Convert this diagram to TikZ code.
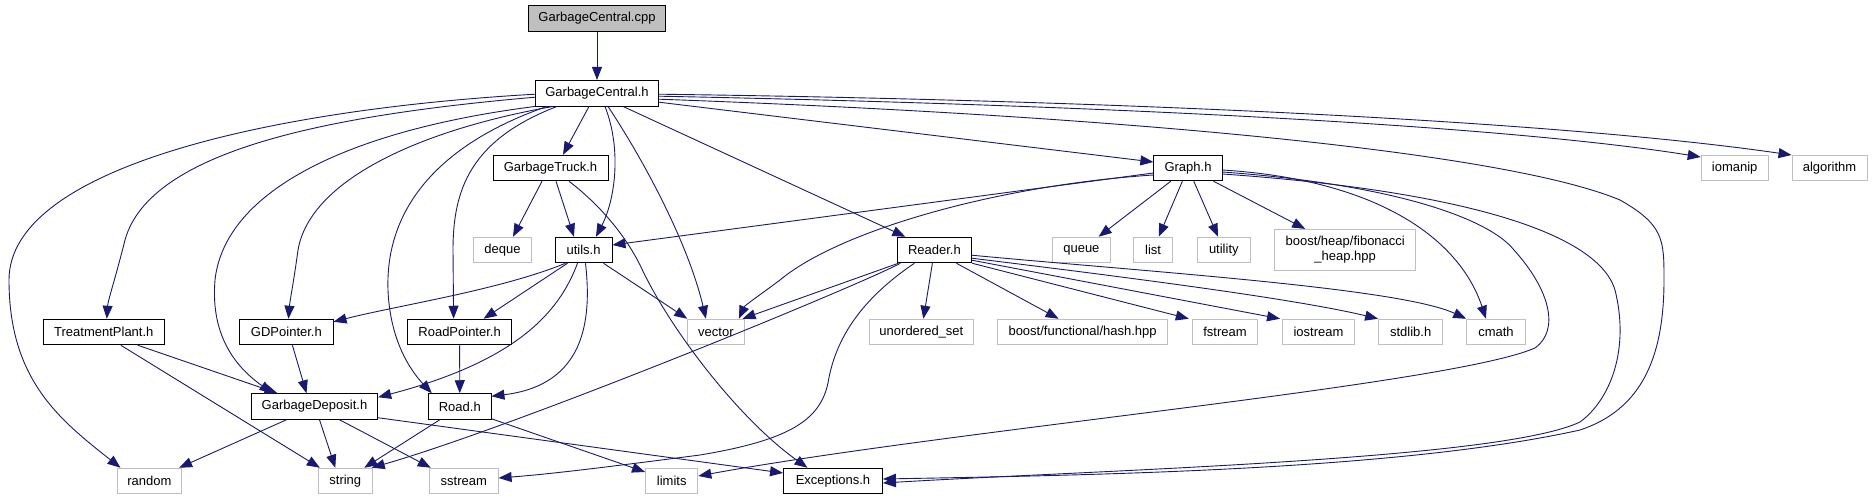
\documentclass[tikz,border=0pt]{standalone}
\usepackage{fontspec}
\setmainfont{Liberation Sans}
\usetikzlibrary{arrows.meta}
\definecolor{navyc}{HTML}{191970}
\definecolor{grayc}{HTML}{BFBFBF}
\begin{document}
\begin{tikzpicture}[x=1pt,y=-1pt,
  box/.style={draw=black, line width=0.9pt, fill=white, minimum height=25.6pt, inner sep=0pt, font=\fontsize{13}{15}\selectfont},
  sys/.style={box, draw=grayc},
  e/.style={draw=navyc, line width=0.9pt, -{Triangle[length=13pt,width=10pt]}}]
\useasboundingbox (0,0) rectangle (1872,500);
% nodes
\node[box, fill=grayc, minimum width=137pt] (cpp) at (597,18.5) {GarbageCentral.cpp};
\node[box, minimum width=123pt] (gch) at (597,93.2) {GarbageCentral.h};
\node[box, minimum width=115pt] (truck) at (550.5,168) {GarbageTruck.h};
\node[box, minimum width=68.4pt] (graph) at (1188,168) {Graph.h};
\node[sys, minimum width=67pt] (iomanip) at (1734.7,168) {iomanip};
\node[sys, minimum width=75pt] (algorithm) at (1829.5,168) {algorithm};
\node[sys, minimum width=57.6pt] (deque) at (502.5,250) {deque};
\node[box, minimum width=57pt] (utils) at (583.5,250) {utils.h};
\node[box, minimum width=74.6pt] (reader) at (934.4,250) {Reader.h};
\node[sys, minimum width=57.6pt] (queue) at (1081.4,250) {queue};
\node[sys, minimum width=38.6pt] (list) at (1153.1,250) {list};
\node[sys, minimum width=53pt] (utility) at (1223.8,250) {utility};
\node[sys, minimum width=141.3pt, minimum height=40.7pt, align=center] (fib) at (1345.2,249.7) {boost/heap/fibonacci\\\_heap.hpp};
\node[box, minimum width=121pt] (tplant) at (103.8,332) {TreatmentPlant.h};
\node[box, minimum width=93.3pt] (gdp) at (286.4,332) {GDPointer.h};
\node[box, minimum width=104pt] (roadp) at (459.6,332) {RoadPointer.h};
\node[sys, minimum width=56.4pt] (vector) at (715.9,332) {vector};
\node[sys, minimum width=104pt] (uset) at (921.4,332) {unordered\_set};
\node[sys, minimum width=170.4pt] (hash) at (1082.6,332) {boost/functional/hash.hpp};
\node[sys, minimum width=65.5pt] (fstream) at (1225,332) {fstream};
\node[sys, minimum width=72pt] (iostream) at (1318.5,332) {iostream};
\node[sys, minimum width=64.3pt] (stdlib) at (1410.7,332) {stdlib.h};
\node[sys, minimum width=58.7pt] (cmath) at (1496,332) {cmath};
\node[box, minimum width=126.4pt] (gdep) at (314.5,406.5) {GarbageDeposit.h};
\node[box, minimum width=62.4pt] (road) at (459.8,406.5) {Road.h};
\node[sys, minimum width=64.7pt] (random) at (149.3,481) {random};
\node[sys, minimum width=54pt] (string) at (345.3,481) {string};
\node[sys, minimum width=68.7pt] (sstream) at (463.8,481) {sstream};
\node[sys, minimum width=52.3pt] (limits) at (671.7,481) {limits};
\node[box, minimum width=99pt] (exc) at (833,481) {Exceptions.h};
% edges
\draw[e] (cpp) -- (gch);
% GarbageCentral.h
\draw[e] ([yshift=-1pt]gch.west) .. controls (260,110) and (9,170) .. (9,280) .. controls (9,380) and (60,420) .. ([xshift=4pt]random.north west);
\draw[e] ([yshift=-4pt]gch.west) .. controls (330,115) and (150,150) .. (125,240) .. controls (115,280) and (108,300) .. ([xshift=3pt]tplant.north);
\draw[e] (gch.south west) .. controls (350,130) and (225,190) .. (215,280) .. controls (210,340) and (240,370) .. ([xshift=-42pt]gdep.north);
\draw[e] ([xshift=-44pt]gch.south) .. controls (420,130) and (310,180) .. (298,250) .. controls (294,280) and (290,300) .. ([xshift=2pt]gdp.north);
\draw[e] ([xshift=-50pt]gch.south) .. controls (450,140) and (385,200) .. (388,290) .. controls (390,340) and (410,370) .. ([xshift=-28pt]road.north);
\draw[e] ([xshift=-40pt]gch.south) .. controls (470,140) and (453,190) .. (453,250) -- ([xshift=-6pt]roadp.north);
\draw[e] ([xshift=-8pt]gch.south) -- ([xshift=12.5pt]truck.north);
\draw[e] ([xshift=8pt]gch.south) .. controls (622,150) and (615,200) .. ([xshift=12.5pt]utils.north);
\draw[e] ([xshift=11pt]gch.south) .. controls (650,170) and (690,250) .. ([xshift=-10pt]vector.north);
\draw[e] ([xshift=26pt]gch.south) -- ([xshift=-29pt]reader.north);
\draw[e] ([yshift=-9pt]gch.east) -- ([yshift=6pt]graph.west);
\draw[e] ([yshift=-3pt]gch.east) .. controls (1100,105) and (1500,125) .. ([yshift=11pt]iomanip.west);
\draw[e] ([yshift=-1pt]gch.east) .. controls (1100,100) and (1550,120) .. ([yshift=13pt]algorithm.west);
\draw[e] ([yshift=-6pt]gch.east) .. controls (1100,115) and (1500,150) .. (1620,200) .. controls (1664,225) and (1664,240) .. (1664,280) .. controls (1664,360) and (1640,410) .. (1580,430) .. controls (1400,470) and (1100,475) .. ([yshift=2pt]exc.east);
% Graph.h
\draw[e] ([yshift=-5pt]graph.west) -- ([yshift=5pt]utils.east);
\draw[e] ([yshift=-7pt]graph.west) .. controls (1000,185) and (840,230) .. (780,280) .. controls (760,295) and (745,305) .. ([xshift=23pt]vector.north);
\draw[e] (graph) -- (queue);
\draw[e] (graph) -- (list);
\draw[e] (graph) -- (utility);
\draw[e] (graph) -- (fib);
\draw[e] ([yshift=-2pt]graph.east) .. controls (1380,180) and (1460,240) .. ([xshift=-10pt]cmath.north);
\draw[e] ([yshift=-4pt]graph.east) .. controls (1400,185) and (1490,220) .. (1514,250) .. controls (1550,290) and (1560,330) .. (1535,348) .. controls (1450,385) and (950,430) .. ([yshift=5pt]limits.east);
\draw[e] ([yshift=-6pt]graph.east) .. controls (1450,190) and (1597,230) .. (1615,290) .. controls (1630,350) and (1610,400) .. (1580,422) .. controls (1500,460) and (1100,470) .. ([yshift=-2pt]exc.east);
% Reader.h
\draw[e] ([xshift=-36pt]reader.south) -- ([xshift=-2pt]vector.north east);
\draw[e] ([xshift=-2pt]reader.south) -- ([xshift=2pt]uset.north);
\draw[e] ([xshift=22pt]reader.south) -- ([xshift=-24pt]hash.north);
\draw[e] (reader.south east) -- ([xshift=-3pt]fstream.north west);
\draw[e] ([yshift=3pt]reader.south east) -- ([xshift=-2pt]iostream.north west);
\draw[e] ([yshift=5pt]reader.south east) .. controls (1150,280) and (1300,300) .. (stdlib.north west);
\draw[e] ([yshift=8pt]reader.south east) .. controls (1150,272) and (1400,288) .. (cmath.north west);
\draw[e] ([xshift=-34pt]reader.south) .. controls (860,285) and (520,425) .. ([xshift=-1pt]string.north east);
\draw[e] ([xshift=-20pt]reader.south) .. controls (860,300) and (835,340) .. (828,383) .. controls (820,420) and (790,440) .. (700,455) .. controls (600,468) and (550,474) .. ([yshift=3pt]sstream.east);
% GarbageTruck.h
\draw[e] ([xshift=-8.5pt]truck.south) -- ([xshift=10.5pt]deque.north);
\draw[e] ([xshift=5.5pt]truck.south) -- ([xshift=-9.5pt]utils.north);
\draw[e] ([xshift=18.5pt]truck.south) .. controls (600,205) and (625,235) .. (640,265) .. controls (670,330) and (740,420) .. ([xshift=-25.5pt]exc.north);
% utils.h
\draw[e] ([xshift=-18pt]utils.south) .. controls (500,290) and (400,305) .. ([yshift=-3pt]gdp.north east);
\draw[e] ([xshift=-16pt]utils.south) -- ([xshift=24pt]roadp.north);
\draw[e] ([xshift=-6pt]utils.south) .. controls (560,310) and (520,360) .. ([yshift=-4pt]gdep.north east);
\draw[e] ([xshift=2pt]utils.south) .. controls (592,320) and (585,385) .. ([yshift=-3pt]road.north east);
\draw[e] ([xshift=20pt]utils.south) -- (vector.north west);
% lower rows
\draw[e] ([xshift=34pt]tplant.south) -- ([xshift=-37pt]gdep.north);
\draw[e] ([xshift=17pt]tplant.south) -- ([xshift=2pt]string.north west);
\draw[e] ([xshift=6pt]gdp.south) -- ([xshift=-8pt]gdep.north);
\draw[e] (roadp) -- (road);
\draw[e] ([xshift=-28pt]gdep.south) -- ([xshift=-3pt]random.north east);
\draw[e] ([xshift=5pt]gdep.south) -- ([xshift=-10pt]string.north);
\draw[e] ([xshift=25pt]gdep.south) -- ([xshift=-33pt]sstream.north);
\draw[e] ([yshift=2pt]gdep.south east) -- ([yshift=8pt]exc.west);
\draw[e] ([xshift=-20pt]road.south) -- ([xshift=19pt]string.north);
\draw[e] ([yshift=1pt]road.south east) -- ([yshift=9pt]limits.west);
\end{tikzpicture}
\end{document}
